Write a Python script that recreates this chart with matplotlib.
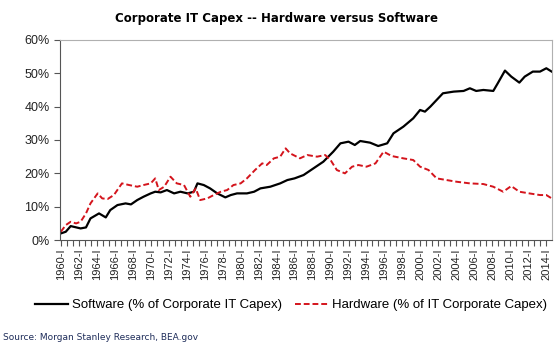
import matplotlib.pyplot as plt
from matplotlib.ticker import MultipleLocator, FixedLocator, PercentFormatter
import numpy as np

# Software share (% of corporate IT capex)
sw_year = [1960.0, 1960.55, 1961.1, 1962.2, 1962.8, 1963.3, 1964.25, 1965.0, 1965.5,
           1966.3, 1967.2, 1967.8, 1968.5, 1969.2, 1970.0, 1970.5, 1971.1, 1971.8,
           1972.6, 1973.3, 1974.1, 1974.8, 1975.2, 1975.9, 1976.6, 1977.4, 1978.3,
           1978.9, 1979.6, 1980.7, 1981.5, 1982.2, 1983.3, 1984.4, 1985.2, 1986.0,
           1987.0, 1988.1, 1989.2, 1990.3, 1991.1, 1992.0, 1992.7, 1993.3, 1994.4,
           1995.3, 1996.3, 1997.0, 1998.1, 1999.2, 1999.96, 2000.5, 2001.1, 2001.8,
           2002.5, 2003.7, 2004.8, 2005.5, 2006.2, 2007.0, 2008.1, 2008.6, 2009.4,
           2010.1, 2011.0, 2011.6, 2012.5, 2013.3, 2014.0, 2014.6]
sw_pct = [2.0, 2.5, 4.2, 3.5, 3.8, 6.5, 8.0, 6.8, 9.0,
          10.5, 11.0, 10.7, 12.0, 13.0, 14.0, 14.5, 14.3, 15.0,
          14.0, 14.5, 14.0, 14.5, 17.0, 16.5, 15.5, 14.0, 12.8,
          13.5, 14.0, 14.0, 14.5, 15.5, 16.0, 17.0, 18.0, 18.5,
          19.5, 21.5, 23.5, 26.5, 29.0, 29.5, 28.5, 29.7, 29.2,
          28.2, 29.0, 32.0, 34.0, 36.5, 39.0, 38.5, 40.0, 42.0,
          44.0, 44.5, 44.7, 45.5, 44.7, 45.0, 44.7, 47.0, 50.8,
          49.0, 47.2, 49.0, 50.5, 50.5, 51.5, 50.5]

# Hardware share (% of IT corporate capex)
hw_year = [1960.0, 1960.55, 1961.1, 1961.7, 1962.2, 1962.8, 1963.3, 1964.1, 1964.6,
           1965.2, 1965.9, 1966.8, 1967.6, 1968.5, 1969.2, 1970.0, 1970.5, 1970.9,
           1971.5, 1972.2, 1972.9, 1973.7, 1974.4, 1975.0, 1975.5, 1976.3, 1977.0,
           1977.8, 1978.5, 1979.2, 1980.0, 1980.7, 1981.6, 1982.4, 1982.9, 1983.7,
           1984.4, 1985.0, 1985.5, 1986.6, 1987.4, 1988.5, 1989.4, 1990.0, 1990.7,
           1991.6, 1992.4, 1993.1, 1994.0, 1995.0, 1995.9, 1996.8, 1998.1, 1999.2,
           1999.96, 2000.9, 2001.8, 2002.9, 2004.0, 2005.5, 2007.0, 2008.1, 2009.2,
           2010.1, 2011.0, 2012.1, 2013.3, 2014.0, 2014.6]
hw_pct = [2.5, 4.5, 5.5, 5.0, 5.5, 8.0, 11.0, 14.0, 12.5,
          12.3, 13.5, 17.0, 16.5, 16.0, 16.5, 17.0, 18.5, 15.0,
          16.0, 19.0, 17.0, 16.5, 13.0, 15.5, 12.0, 12.5, 13.5,
          14.5, 15.0, 16.5, 17.0, 18.5, 21.0, 23.0, 22.5, 24.5,
          25.0, 27.5, 26.0, 24.5, 25.5, 25.0, 25.5, 24.0, 21.0,
          20.0, 22.0, 22.5, 22.0, 23.0, 26.5, 25.2, 24.5, 24.0,
          22.0, 21.0, 18.5, 18.0, 17.5, 17.0, 16.8, 16.0, 14.5,
          16.2, 14.5, 14.0, 13.5, 13.5, 12.5]

tick_years = list(range(1960, 2015, 2))
tick_labels = [f"{y}-I" for y in tick_years]

plt.rcParams['font.family'] = ['Liberation Sans', 'DejaVu Sans']

fig = plt.figure(figsize=(5.6, 3.5), dpi=100)
ax = fig.add_axes([0.107, 0.314, 0.879, 0.572])

ax.plot(sw_year, sw_pct, color='black', lw=1.6,
        label='Software (% of Corporate IT Capex)')
ax.plot(hw_year, hw_pct, color='#d4141c', lw=1.4, ls=(0, (3, 1.5)),
        label='Hardware (% of IT Corporate Capex)')

ax.set_xlim(1959.9, 2014.65)
ax.set_ylim(0, 60)
ax.yaxis.set_major_locator(MultipleLocator(10))
ax.yaxis.set_major_formatter(PercentFormatter(decimals=0))

ax.xaxis.set_major_locator(FixedLocator(tick_years))
ax.set_xticklabels(tick_labels, rotation=90)
ax.xaxis.set_minor_locator(FixedLocator(np.arange(1960, 2015, 2 / 3)))
ax.tick_params(axis='x', which='major', length=4, width=0.8, color='#555555',
               labelsize=8, labelcolor='#222222', pad=2)
ax.tick_params(axis='x', which='minor', length=4, width=0.8, color='#555555')
ax.tick_params(axis='y', length=4, width=0.8, color='#555555',
               labelsize=9, labelcolor='#222222')

for side in ['top', 'right']:
    ax.spines[side].set_color('#b0b0b0')
for side in ['left', 'bottom']:
    ax.spines[side].set_color('#555555')

fig.suptitle('Corporate IT Capex -- Hardware versus Software', x=0.494, y=0.965,
             fontsize=8.5, fontweight='bold', family='DejaVu Sans')

fig.legend(loc='center', bbox_to_anchor=(0.52, 0.128), ncol=2, frameon=False,
           fontsize=9.5, handlelength=2.5, handletextpad=0.3, columnspacing=1.0)

fig.text(0.006, 0.028, 'Source: Morgan Stanley Research, BEA.gov', fontsize=6.5,
         color='#1f2d5a', family='DejaVu Sans')

fig.savefig('out.png', dpi=100)
